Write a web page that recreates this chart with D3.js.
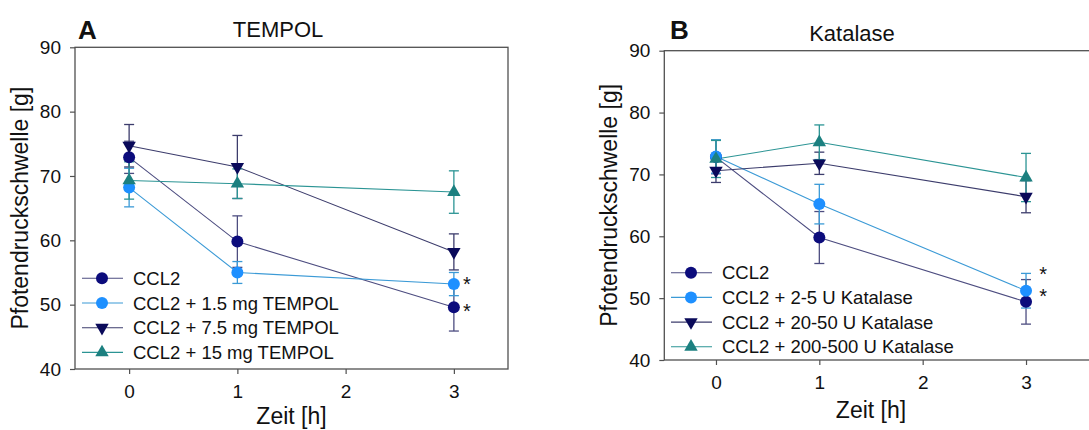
<!DOCTYPE html>
<html>
<head>
<meta charset="utf-8">
<script src="https://cdn.jsdelivr.net/npm/d3@7"></script>
<style>
    body { margin: 0; background: #fff; }
    text { font-family: Arial, 'Liberation Sans', sans-serif; fill: #111; }
</style>
</head>
<body>
<div id="chart"></div>
<script>
(() => {

    ////////////////////////////////////
    ////////////// data ////////////////
    ////////////////////////////////////

    const times = [0, 1, 3]
    const xTicks = [0, 1, 2, 3]
    const yTicks = [40, 50, 60, 70, 80, 90]

    // panel A: TEMPOL
    const tempolLabels = ['CCL2', 'CCL2 + 1.5 mg TEMPOL', 'CCL2 + 7.5 mg TEMPOL', 'CCL2 + 15 mg TEMPOL']
    const tempolMean = [
        [72.9, 59.8, 49.6],
        [68.2, 55.0, 53.2],
        [74.7, 71.4, 58.2],
        [69.3, 68.8, 67.5]
    ]
    const tempolSem = [
        [2.5, 4.0, 3.7],
        [3.0, 1.7, 1.8],
        [3.3, 4.9, 2.8],
        [2.9, 2.3, 3.3]
    ]
    const tempolStars = [53.6, 49.5]

    // panel B: Katalase
    const katalaseLabels = ['CCL2', 'CCL2 + 2-5 U Katalase', 'CCL2 + 20-50 U Katalase', 'CCL2 + 200-500 U Katalase']
    const katalaseMean = [
        [72.8, 59.8, 49.4],
        [72.9, 65.2, 51.2],
        [70.6, 71.8, 66.4],
        [72.5, 75.2, 69.5]
    ]
    const katalaseSem = [
        [2.7, 4.2, 3.6],
        [2.7, 3.2, 2.8],
        [1.9, 1.8, 2.6],
        [3.0, 2.8, 3.9]
    ]
    const katalaseStars = [54.4, 50.8]

    ////////////////////////////////////
    //////////////globals///////////////
    ////////////////////////////////////

    const markerFill = ['#0c0c7c', '#1e90ff', '#0a0a5a', '#1c8080']
    const lineColor = ['#4d4d80', '#3b9ad6', '#3c3c6c', '#2b9494']
    const symbols = ['circle', 'circle', 'down', 'up']

    const svg = d3.select('#chart')
        .append('svg')
        .attr('width', 1089)
        .attr('height', 430)

    const panels = [
        { letter: 'A', title: 'TEMPOL', labels: tempolLabels, mean: tempolMean, sem: tempolSem, stars: tempolStars,
          left: 75, right: 508, top: 47.3, bottom: 369, frameRight: 508, titleX: 278, titleY: 37,
          letterX: 78, starDx: 13, legX: 82, legY: 278.3, xTitleDy: 55 },
        { letter: 'B', title: 'Katalase', labels: katalaseLabels, mean: katalaseMean, sem: katalaseSem, stars: katalaseStars,
          left: 664.3, right: 1077.7, top: 50.7, bottom: 360, frameRight: 1100, titleX: 852, titleY: 41,
          letterX: 670, starDx: 17, legX: 671, legY: 272.7, xTitleDy: 58 }
    ]

    function marker(g, type, color) {
        if (type === 'circle') {
            g.append('circle').attr('r', 6).attr('fill', color)
        } else {
            g.append('path')
                .attr('d', d3.symbol(d3.symbolTriangle, 78)())
                .attr('transform', type === 'down' ? 'rotate(180)' : null)
                .attr('fill', color)
        }
    }

    panels.forEach(p => {

        ////////////// scales //////////////
        const xScale = d3.scaleLinear().domain([-0.5, 3.5]).range([p.left, p.right])
        const yScale = d3.scaleLinear().domain([40, 90]).range([p.bottom, p.top])

        const g = svg.append('g')

        // frame
        g.append('rect')
            .attr('x', p.left).attr('y', p.top)
            .attr('width', p.frameRight - p.left).attr('height', p.bottom - p.top)
            .attr('fill', 'none').attr('stroke', '#505050').attr('stroke-width', 1.3)

        ////////////// axes ////////////////
        const yAxis = g.append('g')
            .attr('transform', 'translate(' + p.left + ',0)')
            .call(d3.axisLeft(yScale).tickValues(yTicks).tickSize(5).tickPadding(9).tickSizeOuter(0))
        const xAxis = g.append('g')
            .attr('transform', 'translate(0,' + p.bottom + ')')
            .call(d3.axisBottom(xScale).tickValues(xTicks).tickFormat(d3.format('d'))
                .tickSize(5).tickPadding(9).tickSizeOuter(0))
        ;[yAxis, xAxis].forEach(a => {
            a.select('.domain').remove()
            a.selectAll('line').attr('stroke', '#505050').attr('stroke-width', 1.2)
            a.selectAll('text').attr('font-size', 19).attr('fill', '#111')
                .attr('font-family', "Arial, 'Liberation Sans', sans-serif")
        })
        xAxis.selectAll('text').attr('dy', '0.8em')

        // axis titles
        const midY = (p.top + p.bottom) / 2
        g.append('text')
            .attr('transform', 'translate(' + (p.left - 47) + ',' + midY + ') rotate(-90)')
            .attr('text-anchor', 'middle')
            .attr('font-size', 23)
            .text('Pfotendruckschwelle [g]')
        g.append('text')
            .attr('x', xScale(1.5)).attr('y', p.bottom + p.xTitleDy)
            .attr('text-anchor', 'middle')
            .attr('font-size', 23)
            .text('Zeit [h]')

        // titles
        g.append('text')
            .attr('x', p.titleX).attr('y', p.titleY)
            .attr('text-anchor', 'middle')
            .attr('font-size', 22)
            .text(p.title)
        g.append('text')
            .attr('x', p.letterX).attr('y', 39)
            .attr('font-size', 26).attr('font-weight', 'bold')
            .text(p.letter)

        ////////////// series //////////////
        const line = d3.line().x((d, i) => xScale(times[i])).y(d => yScale(d))

        p.mean.forEach((vals, s) => {
            g.append('path')
                .attr('d', line(vals))
                .attr('fill', 'none')
                .attr('stroke', lineColor[s])
                .attr('stroke-width', 1.1)
        })

        p.mean.forEach((vals, s) => {
            const eb = g.append('g').attr('stroke', lineColor[s]).attr('stroke-width', 1.3)
            vals.forEach((v, i) => {
                const x = xScale(times[i])
                const y0 = yScale(v - p.sem[s][i])
                const y1 = yScale(v + p.sem[s][i])
                eb.append('line').attr('x1', x).attr('x2', x).attr('y1', y0).attr('y2', y1)
                eb.append('line').attr('x1', x - 5).attr('x2', x + 5).attr('y1', y0).attr('y2', y0)
                eb.append('line').attr('x1', x - 5).attr('x2', x + 5).attr('y1', y1).attr('y2', y1)
            })
        })

        p.mean.forEach((vals, s) => {
            vals.forEach((v, i) => {
                const m = g.append('g')
                    .attr('transform', 'translate(' + xScale(times[i]) + ',' + yScale(v) + ')')
                marker(m, symbols[s], markerFill[s])
            })
        })

        // significance stars at 3 h
        p.stars.forEach(v => {
            g.append('text')
                .attr('x', xScale(3) + p.starDx).attr('y', yScale(v) + 10)
                .attr('text-anchor', 'middle')
                .attr('font-size', 20)
                .text('*')
        })

        ////////////// legend //////////////
        p.labels.forEach((label, s) => {
            const ly = p.legY + s * 24.7
            const lg = g.append('g').attr('transform', 'translate(' + p.legX + ',' + ly + ')')
            lg.append('line')
                .attr('x1', 0).attr('x2', 41).attr('y1', 0).attr('y2', 0)
                .attr('stroke', lineColor[s]).attr('stroke-width', 1.1)
            const m = lg.append('g').attr('transform', 'translate(20,0)')
            marker(m, symbols[s], markerFill[s])
            lg.append('text')
                .attr('x', 51).attr('y', 0)
                .attr('dominant-baseline', 'central')
                .attr('font-size', 18.5)
                .text(label)
        })
    })

})()
</script>
</body>
</html>
